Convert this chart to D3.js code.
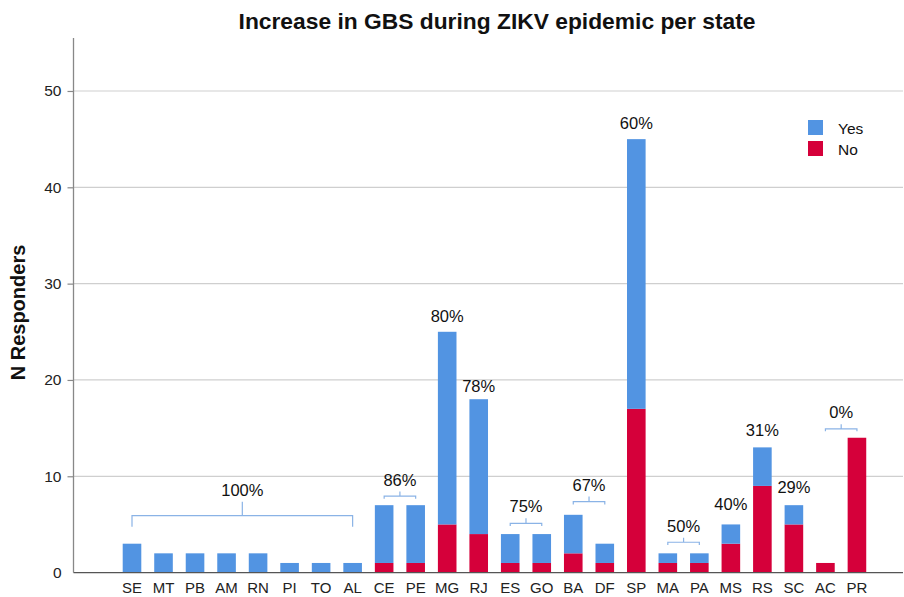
<!DOCTYPE html>
<html>
<head>
<meta charset="utf-8">
<script src="https://cdn.jsdelivr.net/npm/d3@7/dist/d3.min.js"></script>
<style>
  html, body { margin: 0; padding: 0; background: #fff; }
  svg { display: block; font-family: "Liberation Sans", Arial, sans-serif; }
</style>
</head>
<body>
<svg id="chart" width="904" height="597"></svg>
<script>
// ---- data ----
const states = ["SE","MT","PB","AM","RN","PI","TO","AL","CE","PE","MG","RJ","ES","GO","BA","DF","SP","MA","PA","MS","RS","SC","AC","PR"];
const yesCounts = [3,2,2,2,2,1,1,1,6,6,20,14,3,3,4,2,28,1,1,2,4,2,0,0];
const noCounts  = [0,0,0,0,0,0,0,0,1,1,5,4,1,1,2,1,17,1,1,3,9,5,1,14];
const yTicks = [0,10,20,30,40,50];
const seriesNames = ["Yes","No"];

// group (bracket) labels: from/to state, text, bracket level in data units
const groupLabels = [
  {from:"SE", to:"AL", text:"100%", level:5.91, drop:11, rise:14},
  {from:"CE", to:"PE", text:"86%",  level:7.93, drop:2.5, rise:4.6},
  {from:"ES", to:"GO", text:"75%",  level:5.12, drop:2.7, rise:5},
  {from:"BA", to:"DF", text:"67%",  level:7.37, drop:3, rise:5},
  {from:"MA", to:"PA", text:"50%",  level:3.15, drop:2.7, rise:4.6},
  {from:"AC", to:"PR", text:"0%",   level:14.92, drop:2.3, rise:4.7}
];
// single-bar labels: state, text, baseline level in data units
const singleLabels = [
  {state:"MG", text:"80%", level:26.0},
  {state:"RJ", text:"78%", level:18.73},
  {state:"SP", text:"60%", level:46.05},
  {state:"MS", text:"40%", level:6.53},
  {state:"RS", text:"31%", level:14.19},
  {state:"SC", text:"29%", level:8.24}
];

// ---- layout ----
const colors = {Yes:"#5294e2", No:"#d5003a"};
const svg = d3.select("#chart");

const x = d3.scaleBand().domain(states).range([116.24, 872.7]).paddingInner(0.41).paddingOuter(0.205);
const y = d3.scaleLinear().domain([0, 55.5]).range([572.6, 38]);
const axisLeftX = 73.5, rightEdge = 903;

// gridlines
svg.append("g").selectAll("line").data(yTicks.filter(d => d > 0)).join("line")
  .attr("x1", axisLeftX).attr("x2", rightEdge)
  .attr("y1", d => y(d)).attr("y2", d => y(d))
  .attr("stroke", "#cfcfcf").attr("stroke-width", 1.2);

// stacked bars
const rows = states.map((s, i) => ({state: s, Yes: yesCounts[i], No: noCounts[i]}));
const stack = d3.stack().keys(["No","Yes"])(rows);
svg.append("g").selectAll("g").data(stack).join("g")
  .attr("fill", d => colors[d.key])
  .selectAll("rect").data(d => d.filter(p => p[1] - p[0] > 0)).join("rect")
  .attr("x", d => x(d.data.state))
  .attr("width", x.bandwidth())
  .attr("y", d => y(d[1]))
  .attr("height", d => y(d[0]) - y(d[1]));

// y axis
const yAxis = d3.axisLeft(y).tickValues(yTicks).tickSize(6).tickPadding(6);
const gy = svg.append("g").attr("transform", `translate(${axisLeftX},0)`).call(yAxis);
gy.select(".domain").attr("stroke", "#888").attr("stroke-width", 1.3).attr("d", `M0,${y(55.5)}V${y(0)}`);
gy.selectAll(".tick line").attr("stroke", "#888").attr("stroke-width", 1.2)
  .filter(d => d === 0).remove();
gy.selectAll(".tick text").attr("font-size", 15.5).attr("fill", "#222")
  .attr("font-family", "Liberation Sans, Arial, sans-serif");

// x axis
const xAxis = d3.axisBottom(x).tickSize(0).tickPadding(10);
const gx = svg.append("g").attr("transform", `translate(0,${y(0)})`).call(xAxis);
gx.select(".domain").attr("stroke", "#555").attr("stroke-width", 1.3).attr("d", `M${axisLeftX},0H${rightEdge}`);
gx.selectAll(".tick text").attr("font-size", 15).attr("fill", "#222")
  .attr("font-family", "Liberation Sans, Arial, sans-serif");

// title
svg.append("text").attr("x", 497).attr("y", 29).attr("text-anchor", "middle")
  .attr("font-size", 22.8).attr("font-weight", "bold").attr("fill", "#111")
  .text("Increase in GBS during ZIKV epidemic per state");

// y axis title
svg.append("text").attr("transform", "translate(25,312.5) rotate(-90)")
  .attr("text-anchor", "middle").attr("font-size", 20).attr("font-weight", "bold").attr("fill", "#111")
  .text("N Responders");

// bracket annotations
const cx = s => x(s) + x.bandwidth() / 2;
const ann = svg.append("g");
groupLabels.forEach(g => {
  const x1 = cx(g.from), x2 = cx(g.to), ly = y(g.level), mid = (x1 + x2) / 2;
  ann.append("path")
    .attr("d", `M${x1},${ly + g.drop}V${ly}H${x2}V${ly + g.drop}M${mid},${ly}V${ly - g.rise}`)
    .attr("fill", "none").attr("stroke", "#8ab3e6").attr("stroke-width", 1.2);
  ann.append("text").attr("x", mid).attr("y", ly - g.rise - 6)
    .attr("text-anchor", "middle").attr("font-size", 16.5).attr("fill", "#111").text(g.text);
});
singleLabels.forEach(l => {
  ann.append("text").attr("x", cx(l.state)).attr("y", y(l.level))
    .attr("text-anchor", "middle").attr("font-size", 16.5).attr("fill", "#111").text(l.text);
});

// legend
const lg = svg.append("g").attr("transform", "translate(808,120)");
seriesNames.forEach((n, i) => {
  lg.append("rect").attr("x", 0).attr("y", i * 21).attr("width", 15).attr("height", 15).attr("fill", colors[n]);
  lg.append("text").attr("x", 30).attr("y", i * 21 + 14).attr("font-size", 15.5).attr("fill", "#111").text(n);
});
</script>
</body>
</html>
